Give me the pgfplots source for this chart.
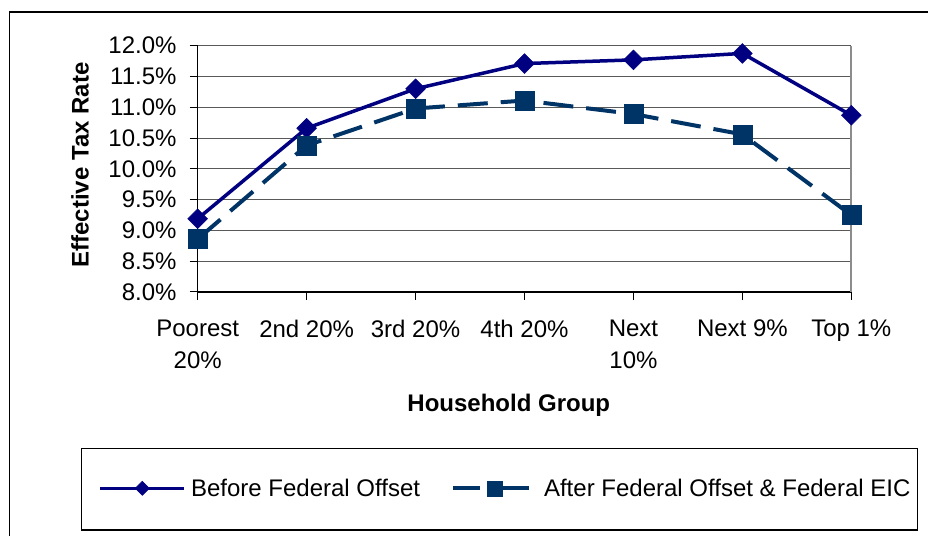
\documentclass[border=0pt]{standalone}
\usepackage{fontspec}
\setmainfont{Liberation Sans}
\usepackage{pgfplots}
\pgfplotsset{compat=1.18}
\definecolor{befc}{HTML}{000080}
\definecolor{aftc}{HTML}{003366}
\begin{document}
\begin{tikzpicture}
\useasboundingbox (0pt,0pt) rectangle (928pt,535pt);
\draw[line width=1.5pt] (9.3pt,-2pt) -- (9.3pt,523pt) -- (932pt,523pt);
\begin{axis}[
  at={(197.7pt,243pt)}, anchor=south west,
  scale only axis, width=653.6pt, height=246.3pt,
  xmin=0, xmax=6, ymin=8, ymax=12,
  axis lines=left, axis line style={-, line width=1.2pt, black},
  clip=false,
  xtick={0,1,2,3,4,5,6},
  xticklabels={{Poorest\\20\%},{2nd 20\%},{3rd 20\%},{4th 20\%},{Next\\10\%},{Next 9\%},{Top 1\%}},
  ytick={8,8.5,9,9.5,10,10.5,11,11.5,12},
  yticklabels={8.0\%,8.5\%,9.0\%,9.5\%,10.0\%,10.5\%,11.0\%,11.5\%,12.0\%},
  tick align=outside, major tick length=8pt,
  tick style={black, line width=1pt},
  ymajorgrids, grid style={black!65, line width=1pt},
  every tick label/.append style={font=\fontsize{24}{32}\selectfont},
  xticklabel style={align=center, anchor=north, inner sep=0pt, yshift=-20pt},
  yticklabel style={anchor=east, inner sep=0pt, xshift=-13pt},
  xlabel={\bfseries Household Group},
  xlabel style={at={(axis description cs:0.476,-0.459)}, anchor=center, font=\fontsize{24}{29}\selectfont},
  ylabel={\bfseries Effective Tax Rate},
  ylabel style={at={(axis description cs:-0.180,0.516)}, anchor=center, font=\fontsize{24}{29}\selectfont},
  legend columns=2,
  legend style={draw=none, fill=none, inner sep=0pt, nodes={inner sep=0pt},
    at={(axis description cs:-0.152,-0.797)}, anchor=west,
    font=\fontsize{24}{29}\selectfont,
    /tikz/every odd column/.append style={column sep=5pt},
    /tikz/every even column/.append style={column sep=31pt}},
  legend image code/.code={\draw[mark repeat=2,mark phase=2,#1] plot coordinates {(0pt,0pt) (42pt,0pt) (84pt,0pt)};},
]
\draw[black!45, line width=2pt] (rel axis cs:1,0) -- (rel axis cs:1,1);
\addplot[befc, line width=3.5pt, mark=square*, mark size=7pt,
  mark options={solid, rotate=45, line width=0.5pt, fill=befc},
  legend image post style={mark size=5pt}]
  coordinates {(0,9.19) (1,10.66) (2,11.30) (3,11.71) (4,11.77) (5,11.875) (6,10.87)};
\addlegendentry{Before Federal Offset}
\addplot[aftc, line width=4pt, dash pattern=on 30pt off 13pt, mark=square*, mark size=9.5pt,
  mark options={solid, line width=0.5pt, fill=aftc},
  legend image post style={mark size=7.5pt, dash pattern=on 27pt off 22pt}]
  coordinates {(0,8.86) (1,10.38) (2,10.98) (3,11.11) (4,10.89) (5,10.56) (6,9.25)};
\addlegendentry{After Federal Offset \& Federal EIC}
\end{axis}
\draw[line width=1.2pt] (81.7pt,5pt) rectangle (917.3pt,86.7pt);
\end{tikzpicture}
\end{document}
